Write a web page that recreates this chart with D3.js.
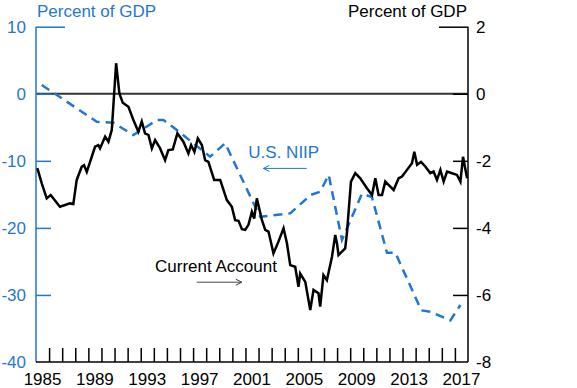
<!DOCTYPE html>
<html>
<head>
<meta charset="utf-8">
<script src="https://cdn.jsdelivr.net/npm/d3@7"></script>
<style>
  body { margin: 0; background: #fff; }
  svg text { font-family: "Liberation Sans", Arial, sans-serif; }
</style>
</head>
<body>
<div id="chart"></div>
<script>
// current account, quarterly, percent of GDP (right axis)
var caYears = [1985.10, 1985.44, 1985.82, 1986.12, 1986.83, 1987.60, 1987.85, 1988.11, 1988.49, 1988.67,
  1988.88, 1989.51, 1989.76, 1989.89, 1990.28, 1990.53, 1990.79, 1991.12, 1991.37, 1991.63,
  1992.06, 1992.44, 1992.82, 1993.08, 1993.33, 1993.59, 1993.85, 1994.10, 1994.48, 1994.86,
  1995.11, 1995.45, 1995.80, 1996.26, 1996.64, 1996.85, 1997.10, 1997.36, 1997.67, 1997.92,
  1998.17, 1998.61, 1999.07, 1999.58, 1999.96, 2000.21, 2000.47, 2000.73, 2000.98, 2001.23,
  2001.49, 2001.67, 2001.87, 2002.26, 2002.51, 2002.76, 2003.14, 2003.52, 2003.91, 2004.17,
  2004.42, 2004.80, 2005.05, 2005.18, 2005.57, 2005.95, 2006.20, 2006.58, 2006.71, 2006.96,
  2007.22, 2007.61, 2007.86, 2007.99, 2008.11, 2008.37, 2008.62, 2008.75, 2009.06, 2009.39,
  2009.77, 2010.28, 2010.67, 2010.92, 2011.17, 2011.43, 2011.68, 2011.93, 2012.32, 2012.70,
  2012.96, 2013.34, 2013.72, 2013.90, 2014.11, 2014.41, 2014.74, 2015.12, 2015.37, 2015.63,
  2015.89, 2016.14, 2016.40, 2016.78, 2017.16, 2017.42, 2017.62, 2017.93];
var caValues = [-2.22, -2.67, -3.12, -3.02, -3.37, -3.27, -3.29, -2.57, -2.18, -2.13,
  -2.33, -1.58, -1.53, -1.63, -1.28, -1.43, -1.08, 0.91, 0.01, -0.27,
  -0.39, -0.78, -1.13, -0.83, -1.18, -1.23, -1.63, -1.38, -1.63, -1.98,
  -1.68, -1.66, -1.18, -1.43, -1.78, -1.53, -1.73, -1.33, -1.53, -1.98,
  -2.03, -2.57, -2.57, -3.17, -3.37, -3.77, -3.79, -4.04, -4.06, -3.91,
  -3.52, -3.72, -3.12, -3.77, -4.06, -4.11, -4.76, -4.41, -4.01, -4.46,
  -5.11, -5.16, -5.76, -5.36, -5.61, -6.45, -5.85, -5.95, -6.35, -5.41,
  -5.56, -4.86, -4.21, -4.46, -4.81, -4.71, -4.61, -4.16, -2.62, -2.37,
  -2.52, -2.82, -3.02, -2.52, -3.02, -3.02, -2.62, -2.72, -2.87, -2.52,
  -2.47, -2.27, -2.07, -1.73, -2.12, -2.03, -2.17, -2.37, -2.32, -2.57,
  -2.27, -2.62, -2.32, -2.37, -2.42, -2.62, -1.88, -2.52];

// U.S. net international investment position, percent of GDP (left axis)
var niipYears = [1985.44, 1989.64, 1990.91, 1992.44, 1994.23, 1994.73, 1995.76, 1998.30, 1999.45, 2001.61,
  2002.13, 2004.42, 2005.97, 2006.71, 2007.36, 2008.37, 2009.90, 2010.66, 2011.81, 2012.45,
  2014.43, 2015.12, 2016.65, 2017.42];
var niipValues = [1.31, -4.17, -4.32, -6.16, -3.92, -3.92, -5.41, -9.39, -7.39, -16.3,
  -18.35, -17.84, -15.1, -14.6, -12.1, -21.8, -14.9, -15.4, -23.7, -23.7,
  -32.3, -32.5, -33.8, -31.5];

var leftTicks = [10, 0, -10, -20, -30, -40];
var rightTicks = [2, 0, -2, -4, -6, -8];
var yearLabels = [1985, 1989, 1993, 1997, 2001, 2005, 2009, 2013, 2017];

var blue = "#1f77d2";
var W = 577, H = 388;

var svg = d3.select("#chart").append("svg")
  .attr("width", W).attr("height", H);

var x = d3.scaleLinear().domain([1985, 2018]).range([36, 468]);
var yL = d3.scaleLinear().domain([-40, 10]).range([362, 26.7]);
var yR = d3.scaleLinear().domain([-8, 2]).range([362, 26.7]);

// zero line
svg.append("line")
  .attr("x1", x(1985)).attr("x2", x(2018))
  .attr("y1", yR(0)).attr("y2", yR(0))
  .attr("stroke", "#333").attr("stroke-width", 2);

// left axis (blue)
var gl = svg.append("g").attr("transform", "translate(" + x(1985) + ",0)");
gl.call(d3.axisRight(yL).tickValues(leftTicks.filter(d => d > -40))
  .tickSize(15).tickFormat(""));
gl.selectAll(".tick line").filter(d => d === 10).attr("x2", 29);
gl.select(".domain").remove();
gl.selectAll("line").attr("stroke", blue).attr("stroke-width", 1.5);
gl.append("line").attr("y1", yL(10)).attr("y2", yL(-40))
  .attr("stroke", blue).attr("stroke-width", 1.5);
svg.selectAll(".ltick").data(leftTicks).enter().append("text")
  .attr("x", 26).attr("y", d => yL(d))
  .attr("dy", "0.35em").attr("text-anchor", "end")
  .attr("font-size", 17).attr("fill", blue)
  .text(d => d);

// right axis (black)
var gr = svg.append("g").attr("transform", "translate(" + x(2018) + ",0)");
gr.call(d3.axisLeft(yR).tickValues(rightTicks.filter(d => d > -8))
  .tickSize(15).tickFormat(""));
gr.selectAll(".tick line").filter(d => d === 2).attr("x2", -29);
gr.select(".domain").remove();
gr.selectAll("line").attr("stroke", "#000").attr("stroke-width", 1.5);
gr.append("line").attr("y1", yR(2)).attr("y2", yR(-8))
  .attr("stroke", "#000").attr("stroke-width", 1.5);
svg.selectAll(".rtick").data(rightTicks).enter().append("text")
  .attr("x", 476).attr("y", d => yR(d))
  .attr("dy", "0.35em").attr("text-anchor", "start")
  .attr("font-size", 17).attr("fill", "#000")
  .text(d => d);

// bottom axis, year ticks pointing up
var gx = svg.append("g").attr("transform", "translate(0," + yL(-40) + ")");
gx.call(d3.axisTop(x).tickValues(d3.range(1986, 2018)).tickSize(14).tickFormat(""));
gx.select(".domain").remove();
gx.selectAll("line").attr("stroke", "#000").attr("stroke-width", 1.5);
gx.append("line").attr("x1", x(1985)).attr("x2", x(2018))
  .attr("stroke", "#000").attr("stroke-width", 1.5);
svg.selectAll(".year").data(yearLabels).enter().append("text")
  .attr("x", d => x(d + 0.5)).attr("y", 385)
  .attr("text-anchor", "middle").attr("font-size", 17)
  .text(d => d);

// axis titles
svg.append("text").attr("x", 37).attr("y", 17)
  .attr("font-size", 17).attr("fill", blue).text("Percent of GDP");
svg.append("text").attr("x", 467).attr("y", 17).attr("text-anchor", "end")
  .attr("font-size", 17).attr("fill", "#000").text("Percent of GDP");

// series
var niip = niipYears.map((d, i) => [d, niipValues[i]]);
var ca = caYears.map((d, i) => [d, caValues[i]]);

svg.append("path").datum(niip)
  .attr("fill", "none").attr("stroke", blue).attr("stroke-width", 2.5)
  .attr("stroke-dasharray", "9,6")
  .attr("d", d3.line().x(d => x(d[0])).y(d => yL(d[1])));

svg.append("path").datum(ca)
  .attr("fill", "none").attr("stroke", "#000").attr("stroke-width", 2.5)
  .attr("stroke-linejoin", "miter")
  .attr("d", d3.line().x(d => x(d[0])).y(d => yR(d[1])));

// annotations
var defs = svg.append("defs");
function arrowHead(id, color) {
  defs.append("marker").attr("id", id)
    .attr("viewBox", "0 0 8 8").attr("refX", 7).attr("refY", 4)
    .attr("markerWidth", 8).attr("markerHeight", 8)
    .attr("markerUnits", "userSpaceOnUse").attr("orient", "auto")
    .append("path").attr("d", "M1,1 L7,4 L1,7")
    .attr("fill", "none").attr("stroke", color).attr("stroke-width", 1);
}
arrowHead("ab", blue);
arrowHead("ak", "#444");

svg.append("text").attr("x", x(2001.22)).attr("y", yL(-9.59))
  .attr("font-size", 17).attr("fill", blue).text("U.S. NIIP");
svg.append("line")
  .attr("x1", x(2005.68)).attr("x2", x(2002.37))
  .attr("y1", yL(-11.13)).attr("y2", yL(-11.13))
  .attr("stroke", blue).attr("stroke-width", 1)
  .attr("marker-end", "url(#ab)");

svg.append("text").attr("x", x(1994.09)).attr("y", yR(-5.31))
  .attr("font-size", 17).attr("fill", "#000").text("Current Account");
svg.append("line")
  .attr("x1", x(1997.28)).attr("x2", x(2000.72))
  .attr("y1", yR(-5.62)).attr("y2", yR(-5.62))
  .attr("stroke", "#444").attr("stroke-width", 1)
  .attr("marker-end", "url(#ak)");
</script>
</body>
</html>
